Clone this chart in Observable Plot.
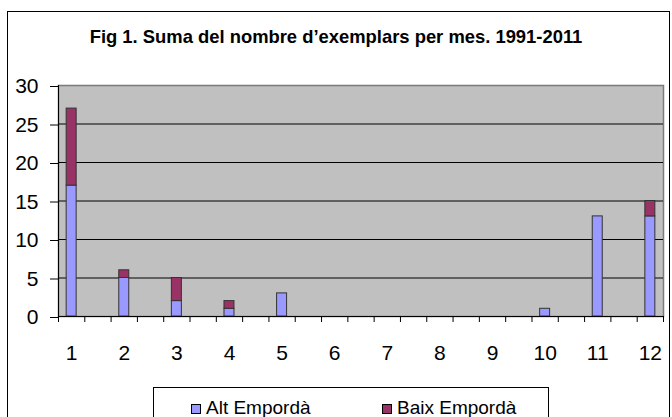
<!DOCTYPE html>
<html>
<head>
<meta charset="utf-8">
<script src="https://cdn.jsdelivr.net/npm/d3@7"></script>
<script src="https://cdn.jsdelivr.net/npm/@observablehq/plot@0.6"></script>
<style>
  body { margin: 0; background: #fff; font-family: "Liberation Sans", Arial, sans-serif; }
  #wrap { position: relative; width: 672px; height: 417px; overflow: hidden; }
  #border { position: absolute; left: 7px; top: 11px; width: 663px; height: 420px; border: 1px solid #000; box-sizing: border-box; }
  #title { position: absolute; left: 0; width: 672px; top: 26px; text-align: center; font-weight: bold; font-size: 18.4px; color: #000; }
  #chart { position: absolute; left: 0; top: 0; }
  #legend { position: absolute; left: 153px; top: 387px; width: 396px; height: 40px; border: 1px solid #000; box-sizing: border-box; background: #fff; }
  .item { position: absolute; top: 10px; font-size: 19px; line-height: 20px; white-space: nowrap; }
  .sw { display: inline-block; width: 10px; height: 10px; border: 1px solid #000; box-sizing: border-box; margin-right: 5px; vertical-align: 0px; }
</style>
</head>
<body>
<div id="wrap">
  <div id="border"></div>
  <div id="chart"></div>
  <div id="title">Fig 1. Suma del nombre d’exemplars per mes. 1991-2011</div>
  <div id="legend"></div>
</div>
<script>
const months = [1, 2, 3, 4, 5, 6, 7, 8, 9, 10, 11, 12];
const altEmporda = [17, 5, 2, 1, 3, 0, 0, 0, 0, 1, 13, 13];
const baixEmporda = [10, 1, 3, 1, 0, 0, 0, 0, 0, 0, 0, 2];
const series = ["Alt Empordà", "Baix Empordà"];
const colors = ["#9999FF", "#993366"];
const yTicks = [0, 5, 10, 15, 20, 25, 30];

const halfBar = 0.095;
const rows = [];
months.forEach((m, i) => {
  rows.push({month: m, s: series[0], y1: 0, y2: altEmporda[i]});
  rows.push({month: m, s: series[1], y1: altEmporda[i], y2: altEmporda[i] + baixEmporda[i]});
});
const bars = rows.filter(d => d.y2 > d.y1);
const boundaries = [months[0] - 0.25, ...months.map(m => m + 0.25), ...months.slice(0, -1).map(m => m + 0.75)].sort((a, b) => a - b);

const chart = Plot.plot({
  width: 672,
  height: 366,
  marginTop: 85,
  marginBottom: 50,
  marginLeft: 58,
  marginRight: 9,
  style: {fontFamily: "'Liberation Sans', Arial, sans-serif", fontSize: "21px", color: "#000", background: "transparent"},
  x: {domain: [months[0] - 0.25, months[months.length - 1] + 0.25], axis: null},
  y: {domain: [0, 30], axis: null},
  color: {domain: series, range: colors},
  marks: [
    Plot.frame({fill: "#C0C0C0", stroke: "#7a7a7a", strokeWidth: 1.5}),
    Plot.ruleY(yTicks.filter(v => v > 0 && v < 30), {stroke: "#000", strokeWidth: 1}),
    Plot.rectY(bars, {x1: d => d.month - halfBar, x2: d => d.month + halfBar, y1: "y1", y2: "y2", fill: "s", stroke: "#333", strokeWidth: 1}),
    Plot.axisY({ticks: yTicks, tickSize: 8, tickPadding: 12, tickFormat: d => d, fontSize: 21, dy: 1, stroke: "#000"}),
    Plot.axisX({ticks: boundaries, tickSize: 6, tickFormat: () => "", stroke: "#000"}),
    Plot.axisX({ticks: months, tickSize: 0, tickPadding: 29, tickFormat: d => String(d), fontSize: 21}),
    Plot.ruleY([0], {stroke: "#000"}),
    Plot.ruleX([months[0] - 0.25], {stroke: "#000"})
  ]
});
document.getElementById("chart").appendChild(chart);

const legend = document.getElementById("legend");
const lx = [37, 228];
series.forEach((s, i) => {
  const it = document.createElement("div");
  it.className = "item";
  it.style.left = lx[i] + "px";
  it.innerHTML = `<span class="sw" style="background:${colors[i]}"></span>${s}`;
  legend.appendChild(it);
});
</script>
</body>
</html>
